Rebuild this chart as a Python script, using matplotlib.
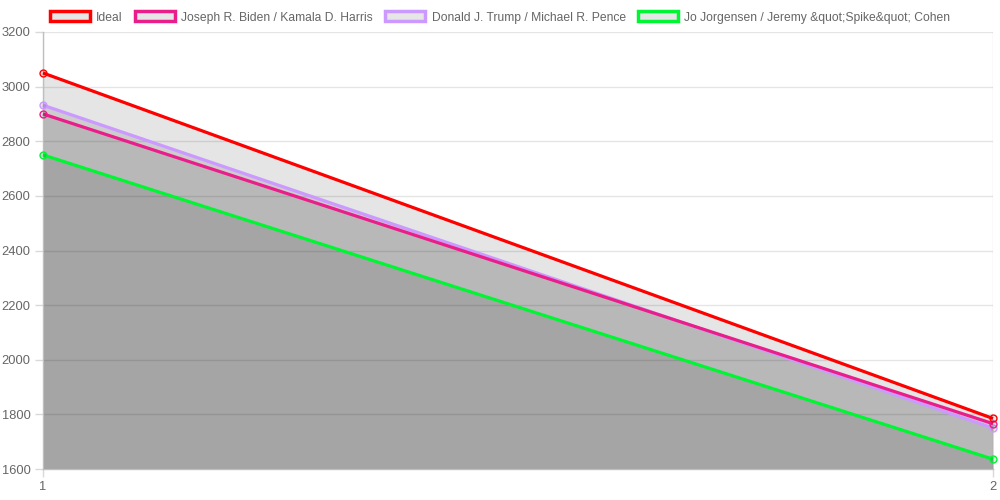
import matplotlib
matplotlib.use("Agg")
import matplotlib.pyplot as plt
from matplotlib.patches import Patch

x_labels = ["1", "2"]
x_vals = [1, 2]
series_names = ["Ideal", "Joseph R. Biden / Kamala D. Harris",
                "Donald J. Trump / Michael R. Pence",
                "Jo Jorgensen / Jeremy &quot;Spike&quot; Cohen"]
ideal = [3050, 1785]
biden = [2900, 1766]
trump = [2932, 1750]
jorgensen = [2750, 1636]
colors = ["#ff0000", "#ea1e8a", "#cc99ff", "#00f533"]

y_ticks = [1600, 1800, 2000, 2200, 2400, 2600, 2800, 3000, 3200]

plt.rcParams['font.family'] = ['Liberation Sans', 'DejaVu Sans']

fig = plt.figure(figsize=(10, 5), dpi=100)
ax = fig.add_axes([0.043, 0.062, 0.95, 0.874])

data = [ideal, biden, trump, jorgensen]
n = len(data)
for i, (vals, c, name) in enumerate(zip(data, colors, series_names)):
    z = 10 + (n - i) * 2
    ax.fill_between(x_vals, vals, 1600, color='black', alpha=0.1, linewidth=0, zorder=2)
    ax.plot(x_vals, vals, color=c, lw=2.3, zorder=z, solid_capstyle='butt',
            marker='o', markersize=5, markerfacecolor=(0, 0, 0, 0.1),
            markeredgecolor=c, markeredgewidth=1.0, clip_on=False)

ax.set_xlim(1, 2)
ax.set_ylim(1600, 3200)
ax.set_yticks(y_ticks)
ax.set_yticklabels([str(t) for t in y_ticks])
ax.set_xticks(x_vals)
ax.set_xticklabels(x_labels)

ax.tick_params(axis='both', color='#d9d9d9', labelcolor='#666666',
               labelsize=9.3, length=6, width=1, pad=3)
ax.set_axisbelow(True)
ax.grid(True, axis='both', color='black', alpha=0.1, linewidth=1, zorder=1)
for s in ['top', 'right']:
    ax.spines[s].set_visible(False)
ax.spines['left'].set_color('#bfbfbf')
ax.spines['bottom'].set_color('#bfbfbf')
ax.spines['left'].set_linewidth(1)
ax.spines['bottom'].set_linewidth(1)
ax.set_facecolor('white')

handles = [Patch(facecolor='#e6e6e6', edgecolor=c, linewidth=2.5) for c in colors]
leg = fig.legend(handles, series_names, loc='upper center', ncol=4,
                 bbox_to_anchor=(0.5, 0.999), frameon=False, fontsize=8.7,
                 handlelength=3.3, handleheight=0.9, columnspacing=1.0,
                 handletextpad=0.55)
for t in leg.get_texts():
    t.set_color('#666666')

fig.savefig("out.png", dpi=100)
